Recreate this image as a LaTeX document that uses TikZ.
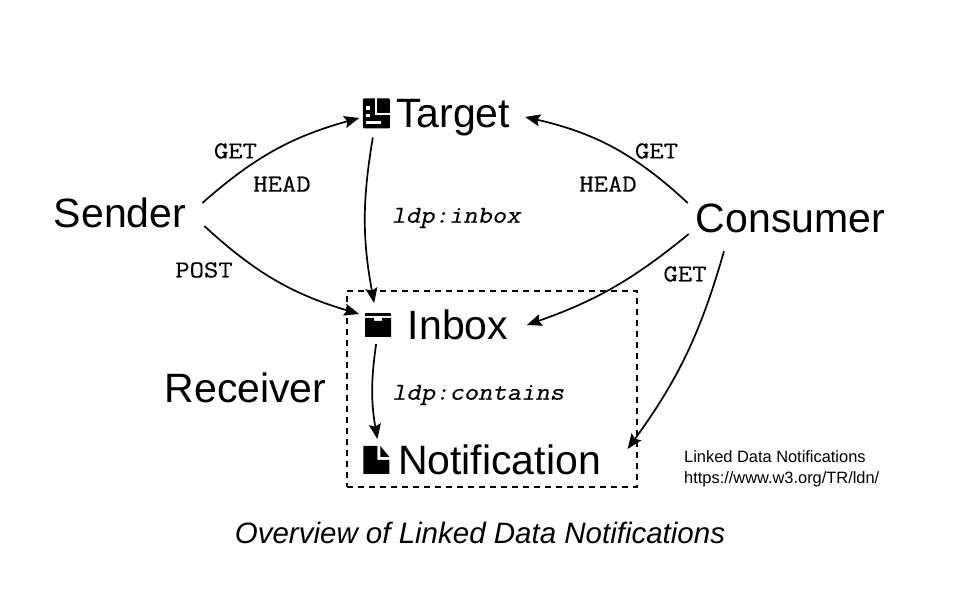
\documentclass[tikz,border=0pt]{standalone}
\usepackage{fontspec}
\setmainfont{Liberation Sans}
\setmonofont[FakeStretch=1.14, FakeBold=0.4]{Latin Modern Mono}
\newfontfamily\propfont[FakeStretch=1.14, FakeBold=0.4, FakeSlant=0.22]{Latin Modern Mono}
\usetikzlibrary{arrows.meta, positioning}

\begin{document}
\begin{tikzpicture}[
  x=1pt, y=-1pt,
  lbl/.style={inner sep=0pt, text height=29pt, text depth=0pt, font=\fontsize{41}{44}\selectfont},
  tag/.style={inner sep=0pt, font=\fontsize{24.4}{26}\selectfont\ttfamily},
  prop/.style={inner sep=0pt, font=\fontsize{24.4}{26}\selectfont\propfont},
  icon/.style={inner sep=0pt, outer sep=0pt, minimum width=26pt, minimum height=28pt},
  arr/.style={line width=1.7pt, -{Stealth[length=15pt, width=12pt, inset=2.5pt]}}
]
\useasboundingbox (0,0) rectangle (975,601);

\node[lbl] (sender)   at (120,213) {Sender};
\node[lbl] (consumer) at (790.5,218) {Consumer};
\node[lbl] (receiver) at (245.5,388) {Receiver};
\node[lbl] (target)   at (453,113.5) {Target};
\node[lbl] (inbox)    at (458,325) {Inbox};
\node[lbl] (notification) at (499.5,460) {Notification};

\node[icon, left=6pt of target, minimum width=27pt, minimum height=30pt, path picture={
  \fill[rounded corners=1pt] (path picture bounding box.north west) rectangle (path picture bounding box.south east);
  \begin{scope}[shift={(path picture bounding box.center)}]
    \fill[white] (-1.5,-16) rectangle (1,2);
    \fill[white] (-1.5,-0.7) rectangle (14,2);
    \fill[white] (-10,-7) rectangle (-6,-3.7);
    \fill[white] (-10,0.7) rectangle (-6,4);
    \fill[white] (-10,7.3) rectangle (5,10.7);
  \end{scope}}] (targeticon) {};
\node[icon, left=16.5pt of inbox, minimum height=24pt, path picture={
  \begin{scope}[shift={(path picture bounding box.center)}]
    \fill (-13,-12) rectangle (13,-9);
    \fill (-13,-7) -- (-4,-7) -- (-4,-4) -- (4,-4) -- (4,-7) -- (13,-7) -- (13,12) -- (-13,12) -- cycle;
  \end{scope}}] (inboxicon) {};
\node[icon, left=8.5pt of notification, path picture={
  \begin{scope}[shift={(path picture bounding box.center)}]
    \fill (-13,-14) -- (1,-14) -- (1,0) -- (13,0) -- (13,14) -- (-13,14) -- cycle;
    \fill (4,-14) -- (13,-3) -- (4,-3) -- cycle;
  \end{scope}}] (notificationicon) {};

\node[draw, line width=1.3pt, dash pattern=on 6pt off 5pt, minimum width=290pt, minimum height=196pt] (receiverbox) at (492,389) {};

\node[tag] (get1)  at (235.5,151) {GET};
\node[tag] (head1) at (282,184) {HEAD};
\node[tag] (post)  at (204,270) {POST};
\node[tag] (get2)  at (656.5,151) {GET};
\node[tag] (head2) at (608,184) {HEAD};
\node[tag] (get3)  at (685,274) {GET};
\node[prop] (ldpinbox)    at (456,218) {ldp:inbox};
\node[prop] (ldpcontains) at (478,395) {ldp:contains};

\node[inner sep=0pt, align=left, anchor=west, font=\fontsize{16.4}{21}\selectfont] (ref) at (684,468.5) {Linked Data Notifications\\https://www.w3.org/TR/ldn/};
\node[inner sep=0pt, font=\fontsize{29.5}{32}\selectfont\itshape] (caption) at (480,533) {Overview of Linked Data Notifications};

\draw[arr] ([shift={(16,-10)}]sender.east) to[bend left=13] ([shift={(-3.5,4.5)}]targeticon.west);
\draw[arr] ([shift={(18,13)}]sender.east) to[bend right=13] ([shift={(-6,-11)}]inboxicon.west);
\draw[arr] ([shift={(-8,-15)}]consumer.west) to[bend right=15] ([shift={(15,3.5)}]target.east);
\draw[arr] ([shift={(-7,16)}]consumer.west) to[bend left=10] ([shift={(18.5,0)}]inbox.east);
\draw[arr] ([shift={(-66.5,18.5)}]consumer.south) to[bend left=10] ([shift={(26.5,-11)}]notification.east);
\draw[arr] ([shift={(-3.5,9)}]targeticon.south) to[bend right=10] ([shift={(-4,-10)}]inboxicon.north);
\draw[arr] ([shift={(-2,7)}]inboxicon.south) to[bend right=9] ([shift={(1,-7)}]notificationicon.north);
\end{tikzpicture}
\end{document}
